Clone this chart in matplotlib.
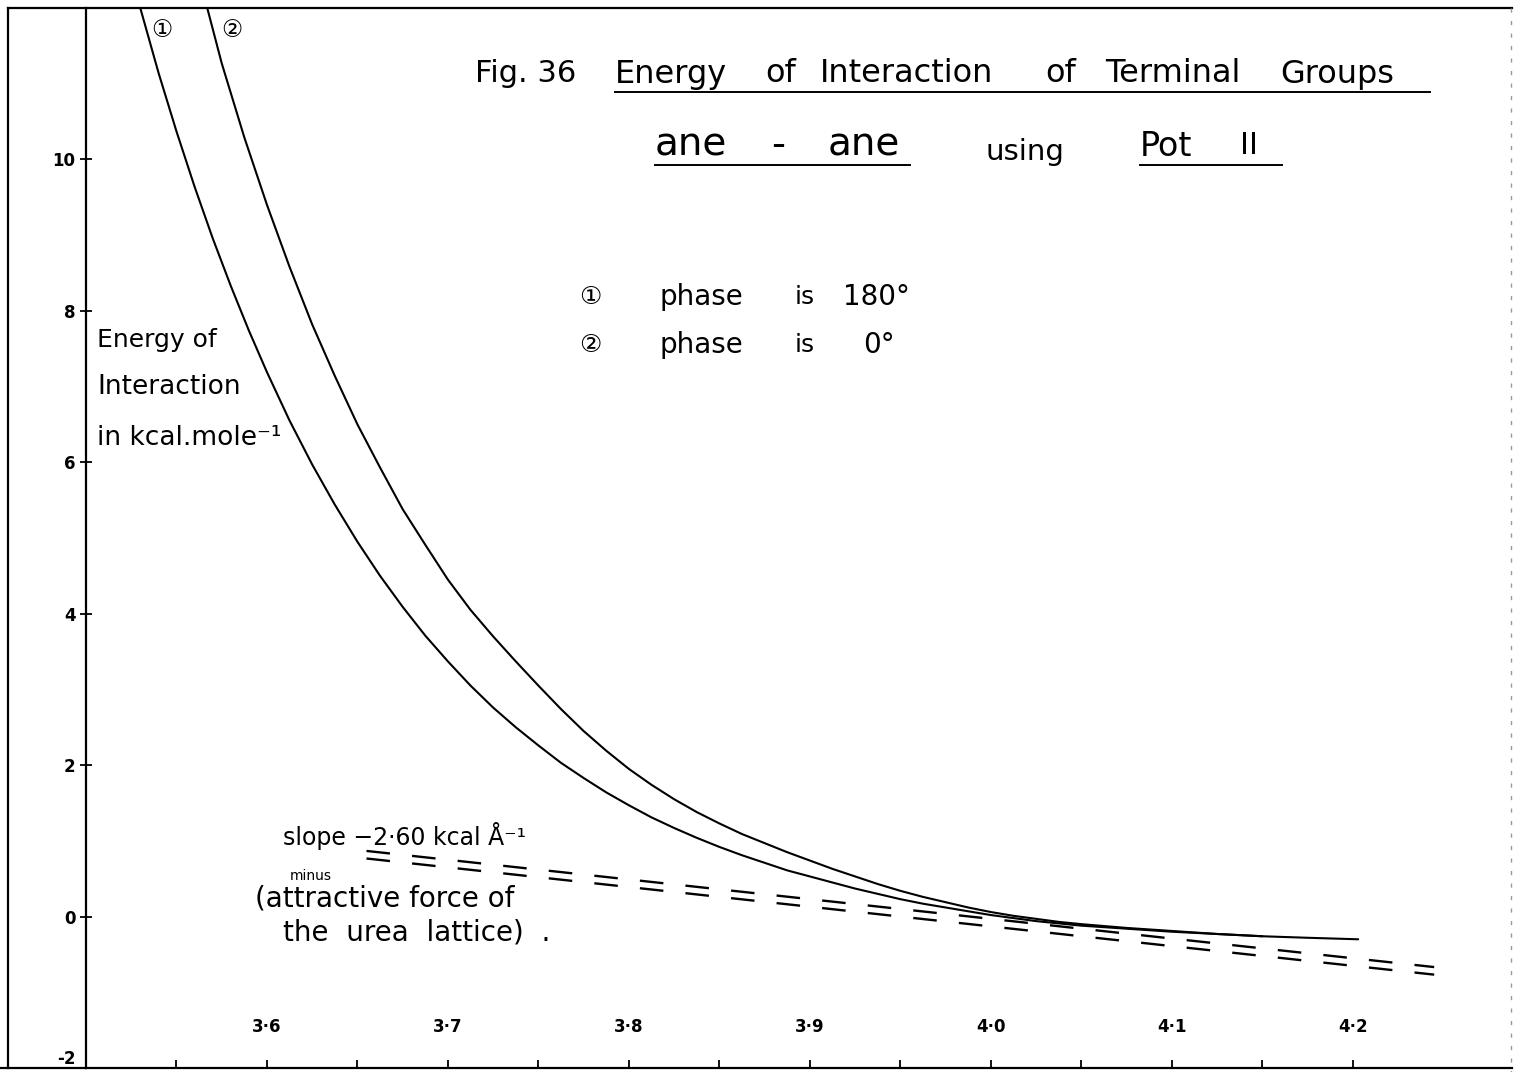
import matplotlib
matplotlib.use("Agg")
import matplotlib.pyplot as plt
from matplotlib.lines import Line2D
import numpy as np

plt.rcParams['lines.scale_dashes'] = False
plt.rcParams['font.family'] = ['DejaVu Sans', 'Noto Sans CJK JP']

# Curve 1: phase is 180 deg  (separation in Angstrom, energy in kcal/mole)
r_phase180 = [3.530, 3.540, 3.550, 3.560, 3.570, 3.580, 3.590, 3.600,
              3.6125, 3.625, 3.6375, 3.650, 3.6625, 3.675, 3.6875, 3.700,
              3.7125, 3.725, 3.7375, 3.750, 3.7625, 3.775, 3.7875, 3.800,
              3.8125, 3.825, 3.8375, 3.850, 3.8625, 3.875, 3.8875, 3.900,
              3.9125, 3.925, 3.9375, 3.950, 3.9625, 3.975, 3.9875, 4.000,
              4.0125, 4.025, 4.0375, 4.050, 4.075, 4.100, 4.125, 4.150,
              4.175, 4.203]
e_phase180 = [12.00, 11.15, 10.37, 9.64, 8.96, 8.33, 7.74, 7.19,
              6.55, 5.97, 5.44, 4.95, 4.50, 4.09, 3.71, 3.37,
              3.05, 2.76, 2.50, 2.26, 2.03, 1.83, 1.64, 1.47,
              1.31, 1.17, 1.04, 0.92, 0.81, 0.71, 0.61, 0.53,
              0.45, 0.37, 0.30, 0.23, 0.17, 0.12, 0.07, 0.02,
              -0.02, -0.06, -0.09, -0.12, -0.16, -0.20, -0.23, -0.26,
              -0.28, -0.30]

# Curve 2: phase is 0 deg
r_phase0 = [3.567, 3.575, 3.5875, 3.600, 3.6125, 3.625, 3.6375, 3.650,
            3.6625, 3.675, 3.6875, 3.700, 3.7125, 3.725, 3.7375, 3.750,
            3.7625, 3.775, 3.7875, 3.800, 3.8125, 3.825, 3.8375, 3.850,
            3.8625, 3.875, 3.8875, 3.900, 3.9125, 3.925, 3.9375, 3.950,
            3.9625, 3.975, 3.9875, 4.000, 4.0125, 4.025, 4.0375, 4.050,
            4.075, 4.100, 4.125, 4.150]
e_phase0 = [12.00, 11.27, 10.29, 9.40, 8.58, 7.82, 7.14, 6.50,
            5.93, 5.38, 4.91, 4.45, 4.05, 3.70, 3.37, 3.05,
            2.74, 2.45, 2.19, 1.95, 1.74, 1.55, 1.38, 1.23,
            1.09, 0.97, 0.85, 0.74, 0.63, 0.53, 0.43, 0.34,
            0.26, 0.19, 0.12, 0.06, 0.01, -0.03, -0.07, -0.10,
            -0.15, -0.19, -0.23, -0.26]

# Attractive force of the urea lattice: slope -2.60 kcal per Angstrom
slope_kcal = -2.60
slope_r = [3.655, 4.245]
slope_anchor_r = 3.95
slope_anchor_e = [0.10, 0.0]   # the two strokes of the double line

x_major = [3.6, 3.7, 3.8, 3.9, 4.0, 4.1, 4.2]
x_major_labels = ["3·6", "3·7", "3·8", "3·9", "4·0", "4·1", "4·2"]
x_minor = [3.55, 3.65, 3.75, 3.85, 3.95, 4.05, 4.15]
y_major = [-2, 0, 2, 4, 6, 8, 10]
y_major_labels = ["-2", "0", "2", "4", "6", "8", "10"]

W, H = 1515, 1072
fig = plt.figure(figsize=(W / 100, H / 100), dpi=100)
fig.patch.set_facecolor("white")
ax = fig.add_axes([86 / W, 4 / H, 1426 / W, 1060 / H])
ax.set_xlim(3.5, 4.288)
ax.set_ylim(-2, 12)
ax.patch.set_alpha(0)

for side in ("top", "right"):
    ax.spines[side].set_visible(False)
for side in ("left", "bottom"):
    ax.spines[side].set_linewidth(1.6)
    ax.spines[side].set_color("black")

ax.set_xticks(x_major)
ax.set_xticklabels(x_major_labels, fontsize=12, fontweight="bold")
ax.set_xticks(x_minor, minor=True)
ax.tick_params(axis="x", which="both", direction="in", length=6, width=1.3,
               pad=-36, colors="black")
ax.set_yticks(y_major)
ax.set_yticklabels(y_major_labels, fontsize=12, fontweight="bold")
ax.tick_params(axis="y", which="both", direction="inout", length=9, width=1.3,
               pad=3, colors="black")
# keep the lowest value label inside the sheet
ax.yaxis.get_major_ticks()[0].label1.set_verticalalignment("bottom")

ax.plot(r_phase180, e_phase180, color="black", lw=1.5, solid_capstyle="round")
ax.plot(r_phase0, e_phase0, color="black", lw=1.5, solid_capstyle="round")

sr = np.array(slope_r)
for e0 in slope_anchor_e:
    ax.plot(sr, e0 + slope_kcal * (sr - slope_anchor_r), color="black",
            lw=1.7, linestyle=(0, (17, 16)))


def px_text(x, y, s, size=18, ha="left", va="center", **kw):
    fig.text(x / W, 1 - y / H, s, fontsize=size, ha=ha, va=va,
             color="black", **kw)


def px_line(x0, x1, y, lw=1.4, color="black", **kw):
    fig.add_artist(Line2D([x0 / W, x1 / W], [1 - y / H, 1 - y / H],
                          transform=fig.transFigure, color=color, lw=lw, **kw))


def px_vline(x, y0, y1, lw=1.4, color="black", **kw):
    fig.add_artist(Line2D([x / W, x / W], [1 - y0 / H, 1 - y1 / H],
                          transform=fig.transFigure, color=color, lw=lw, **kw))


# sheet border
px_line(8, 1512, 8, lw=1.6)
px_line(0, 86, 1068, lw=1.6)
px_vline(8, 8, 1068, lw=1.6)
px_vline(1511, 8, 1072, lw=1.0, color="0.6", linestyle=(0, (3, 6)))

# curve numbers
px_text(162, 30, "①", size=17, ha="center")
px_text(232, 30, "②", size=17, ha="center")

# heading
px_text(475, 74, "Fig. 36", size=22)
for x, w in [(615, "Energy"), (765, "of"), (820, "Interaction"), (1045, "of"),
             (1105, "Terminal"), (1280, "Groups")]:
    px_text(x, 74, w, size=23)
px_line(615, 1430, 92, lw=1.4)

px_text(655, 145, "ane", size=28)
px_text(778, 145, "-", size=28, ha="center")
px_text(900, 145, "ane", size=28, ha="right")
px_line(655, 910, 165, lw=1.4)
px_text(985, 152, "using", size=21)
px_text(1140, 146, "Pot", size=24)
px_text(1240, 146, "II", size=22)
px_line(1140, 1282, 165, lw=1.4)

# key
for y, num, val, xr in [(297, "①", "180°", 910), (345, "②", "0°", 895)]:
    px_text(590, y, num, size=18, ha="center")
    px_text(660, y, "phase", size=20)
    px_text(795, y, "is", size=18)
    px_text(xr, y, val, size=20, ha="right")

# axis caption
px_text(97, 340, "Energy of", size=18)
px_text(97, 387, "Interaction", size=19)
px_text(97, 438, "in kcal.mole⁻¹", size=19)

# slope note
px_text(283, 836, "slope −2·60 kcal Å⁻¹", size=17)
px_text(290, 876, "minus", size=10)
px_text(255, 899, "(attractive force of", size=20)
px_text(283, 932, "the  urea  lattice)  .", size=20)

fig.savefig("out.png", dpi=100, facecolor="white")
